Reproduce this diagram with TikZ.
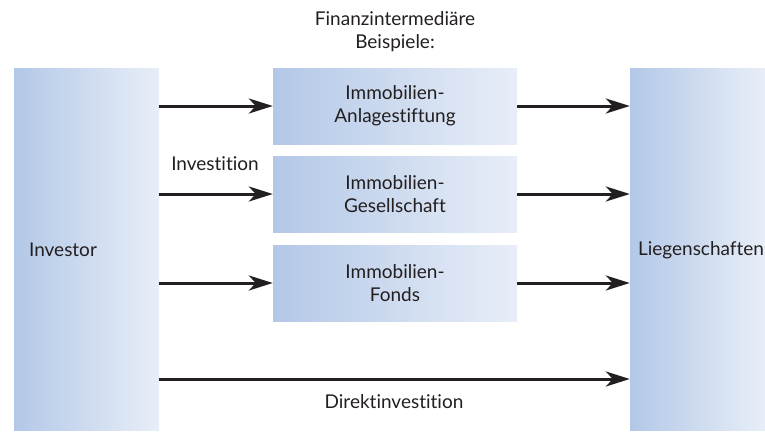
\documentclass[tikz,border=0pt]{standalone}
\usepackage{fontspec}
\setmainfont[Ligatures={NoCommon,NoRare}]{Lato}
\usetikzlibrary{arrows.meta}
\definecolor{blaudunkel}{HTML}{B3C8E7}
\definecolor{blauhell}{HTML}{E8EEF8}
\definecolor{schrift}{HTML}{231F20}
\tikzset{
  block/.style={inner sep=0pt, left color=blaudunkel, right color=blauhell, draw=none},
  seite/.style={block, minimum width=#1, minimum height=362pt},
  mittel/.style={block, minimum width=244pt, minimum height=76pt, align=center, font=\fontsize{19}{23}\selectfont, text=schrift},
  pfeil/.style={line width=3pt, draw=schrift, -{Stealth[length=24pt,width=15pt,inset=7pt]}},
  label/.style={font=\fontsize{19}{23}\selectfont, text=schrift, align=center}
}
\begin{document}
\begin{tikzpicture}[x=1pt,y=-1pt]
\useasboundingbox (0,0) rectangle (765,431);
% Seitenbloecke
\node[seite=145pt] (investor) at (86.5,249) {};
\node[seite=135pt] (liegen) at (697.5,249) {};
\node[label] (investortxt) at (63,250) {Investor};
\node[label] (liegentxt) at (701,250) {Liegenschaften};
% Finanzintermediaere
\node[label] (titel) at (395,32) {Finanzintermedi\"are\\Beispiele:};
\node[mittel] (anlage) at (395,106) {Immobilien-\\Anlagestiftung};
\node[mittel] (gesell) at (395,194) {Immobilien-\\Gesellschaft};
\node[mittel] (fonds) at (395,283) {Immobilien-\\Fonds};
% Pfeile
\draw[pfeil] (investor.east |- anlage) -- (anlage);
\draw[pfeil] (investor.east |- gesell) -- (gesell);
\draw[pfeil] (investor.east |- fonds) -- (fonds);
\draw[pfeil] (anlage) -- (liegen.west |- anlage);
\draw[pfeil] (gesell) -- (liegen.west |- gesell);
\draw[pfeil] (fonds) -- (liegen.west |- fonds);
\coordinate (direkt) at (395,379);
\draw[pfeil] (investor.east |- direkt) -- (liegen.west |- direkt);
\node[label] (invest) at (215,164) {Investition};
\node[label] (direkttxt) at (394,402) {Direktinvestition};
\end{tikzpicture}
\end{document}
